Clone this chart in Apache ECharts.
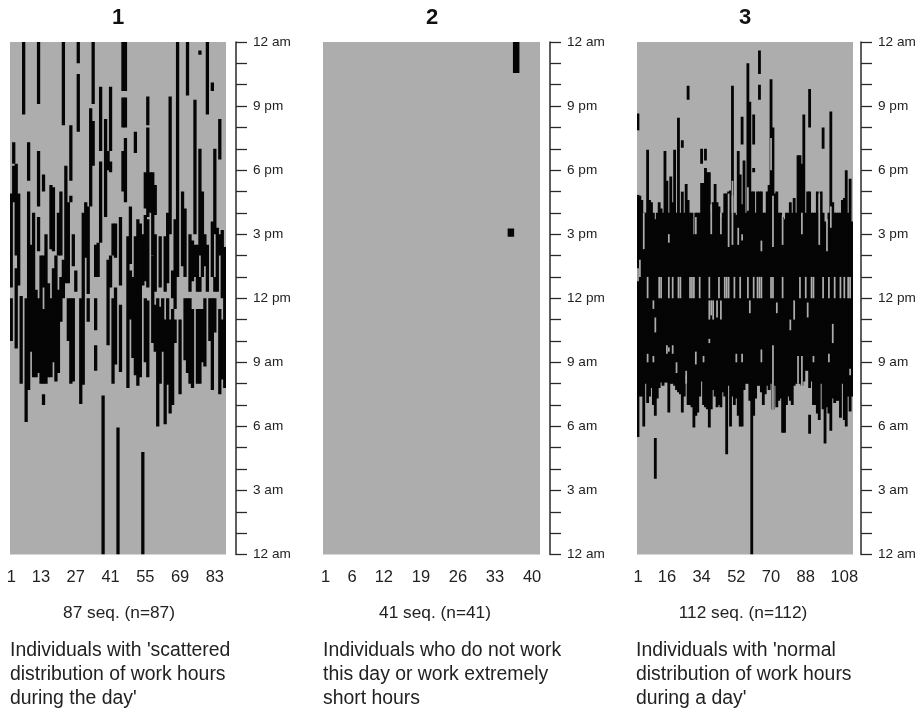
<!DOCTYPE html>
<html><head><meta charset="utf-8">
<style>html,body{margin:0;padding:0;background:#fff}#c{width:923px;height:710px;filter:blur(0.4px)}</style>
<script src="https://cdn.jsdelivr.net/npm/echarts@6/dist/echarts.min.js"></script>
</head><body><div id="c"></div>
<script>
// [sequence index, end hour, start hour]
const work1 = [
[0,16.9,12.5],[0,12,10],[1,19.3,18.3],[1,18.2,16.5],[2,18.3,14],[2,13.4,9.65],[3,16.9,12.6],[4,12.1,8],[5,24,20.6],[6,12,6.2],
[7,19.3,17.5],[7,17,7.7],[8,14.5,9.5],[9,16,8.3],[10,12.4,8.3],[11,24,21.1],[11,18.9,16.3],[11,15.8,14.2],[11,12,8.5],[12,14,8],
[13,17.8,17],[13,14,12.5],[13,11.5,8],[13,7.5,7],[14,15,8],[15,12.7,8.3],[16,17.3,14.3],[16,12,8.3],[17,17.2,14.2],[17,13.4,9],
[18,14,8.1],[19,16,14],[19,12.4,8.5],[20,17,14],[20,13,10.9],[21,24,20.1],[21,13.8,12],[22,18.2,12.7],[23,16.5,12.7],[23,12,10],
[24,20.1,17.5],[24,16.8,16.5],[24,12,8],[25,15,13.5],[25,12,8.1],[26,13.3,12.3],[27,24,23],[27,22.5,19.8],[28,12,7.05],[29,16,7.95],
[30,16.5,13.9],[31,16.3,12.2],[31,12,10.9],[32,20.9,16.3],[33,24,21.1],[33,20.3,18.2],[34,14.5,13],[34,12,10.5],[34,9.8,8.6],[35,14.6,13],
[36,21.9,18.9],[36,18.4,14.6],[37,7.45,0],[38,20.4,15.8],[39,18.9,18],[39,13.8,9.8],[40,21.9,18.9],[40,18.4,17.9],[40,14,12.5],[41,15.5,14],[41,12,8],
[42,15.5,13.9],[42,12.5,8.9],[43,5.95,0],[44,15.8,12.6],[44,11.7,8.55],[45,24,21.7],[45,21.4,20],[45,18.9,17],[46,24,21.7],[46,21.4,20],[46,19.5,16.5],
[47,14.9,7.8],[48,16.3,13.6],[48,13.3,11],[49,13,9.2],[50,19.8,18.8],[50,14.9,8.4],[51,15.7,7.9],[52,15.5,8.3],[53,4.8,0],[53,15,12.6],
[54,17.9,16.2],[54,15.9,12.8],[54,12,9],[55,21.45,20.1],[55,20,15.8],[55,15.7,12.5],[55,11.9,8.3],[56,17.9,16],[57,17.9,14],[57,14,9.9],
[58,17.3,15.9],[58,15,12.3],[58,11.7,9.5],[59,12,6],[60,14.9,12.5],[60,11.6,8],[61,12,9.5],[62,14.9,12.3],[62,11,6.1],[63,16,12.7],[63,12,7.95],
[64,21.45,15],[64,11,6.6],[65,13.3,12],[65,11.5,7],[66,15.7,11.5],[66,11,9.9],[67,24,13],[68,11,7.5],[69,17,13.5],[70,16.2,13],[70,12,9.1],
[71,24,21.5],[71,12,8.5],[72,15,12.3],[72,12,8],[73,14.7,12.8],[73,11.5,7.8],[74,21.3,15],[74,14.5,13],[75,14.5,12.3],[75,11.5,8],
[76,23.6,23.4],[76,19,14],[76,13,12.3],[76,11.5,8],[77,17,13],[77,11.5,9],[78,15,13.5],[78,12,8.8],[79,24,20.6],[79,14.5,12.3],[80,12,10],
[81,22.1,21.7],[81,15.6,13],[81,12,7.7],[82,19,15],[82,13,12.3],[82,12,10.4],[83,15.3,12.3],[84,20.4,18.5],[84,15,14],[84,11.5,7.5],
[85,15.2,14.4],[85,14.4,12],[85,11,8.2],[86,14.4,7.8]
];
const work2 = [[35,15.27,14.88],[36,24,22.55]];
const top3 = [16.85,16.8,16.6,16,16,18.95,16.6,16.5,16,15.7,16,16.5,16.2,16,18.9,17.5,16,17.7,16.5,18.95,16,20.45,16,17,16,17.35,16.6,16,16,15,16,16,16,17.4,17.4,18.1,17.9,17.9,16,16.5,17.35,16.5,16.3,15.8,16,16.9,16.9,17,17.05,21.95,16,15.9,18.9,17.8,16.4,18.45,16,23,21.2,17,17,16,17,17,17,16,16,17,17.3,22.25,20,16.9,17,16,16,15.8,15.7,16,16,16.5,16,16.7,16,18.7,18.7,18.3,20.6,16,17,17,16,16,16,17,16,17,16,15.6,15.5,16,20.75,16.5,16,16,16,16,16.6,16.7,18,16,17.6,15.6];
const bot3 = [5.5,7.4,7.4,6,8,7.1,7.4,7.8,7,6.5,7.3,7.8,8.05,7.9,8.05,8.05,6.65,8,8,7.9,7.7,7.6,7.5,6.65,7.4,8.4,7,7,6.9,5.95,6.5,6.65,7.4,8.1,7,6.9,6.8,5.95,6.8,7.7,7.4,6.9,7,6.9,7.6,7.4,4.7,7.9,6,7.4,7,7.3,6.5,6,6,7.7,8,8,7.2,0,6.5,7.3,7.9,7.9,7.6,7,7.5,7.9,7.7,8,6.8,7.9,6.9,7.2,7.3,5.7,5.7,7,7.4,7.2,7,7.9,8,8,8,7.9,8.1,8.6,8.6,7.8,8.1,7,7,6.6,6.3,8,6.8,5.2,6.9,6.6,5.8,7.3,7.1,7.2,7.2,6.4,8,6.3,6,7.4,6.7,7.4];
const extra3 = [[0,20.65,19.85],[9,5.45,3.55],[23,19.4,19.05],[26,21.95,21.3],[33,19,18.3],[35,19,18.45],[54,20.5,19.2],[60,20.6,19.2],[60,18.1,17.9],[63,23.6,22.5],[63,22,21.3],[89,21.8,20],[89,6.55,5.65],[96,20,19]];
const holes3 = [
[0,19.85,19.35],[0,17,16.85],[5,13,12],[11,13,12],[12,13,12],[16,13,12],[18,13,12],[21,13,12],[22,13,12],[23,18.9,17],[27,13,12],[28,13,12],[29,13,12],[32,13,12],[37,13,12],[42,13,12],[45,13,12],[46,13,12],[47,13,12],[50,13,12],[53,13,12],[57,13,12],[60,13,12],[62,13,12],[63,13,12],[64,13,12],[69,13,12],[70,13,12],[75,13,12],[84,13,12],[87,13,12],[90,13,12],[91,13,12],[96,13,12],[99,13,12],[102,13,12],[105,13,12],[107,13,12],[109,13,12],[110,13,12],
[0,13.4,12.8],[1,13.8,13],[3,16,14.3],[30,15.8,15],[38,16.4,15],[43,16,15],[47,16.9,14.4],[49,16.8,14.5],[52,15.3,14.5],[54,15,14.7],[64,14.7,14.2],[70,16.8,14.4],[75,15.9,14.5],[85,16,15],[94,16.9,14.5],[98,15.7,14.2],[100,16.3,15.3],[16,15,14.6],
[8,11.9,11.5],[9,11.1,10.4],[37,11.9,11],[38,11.9,11.2],[39,11.9,11],[41,11.9,11.1],[43,11.9,11],[37,10.1,9.9],[15,9.8,9.4],[16,9.7,9.5],[18,9.8,9.4],[5,9.4,9],[8,9.3,9],[30,9.5,8.9],[34,9.3,9],[51,9.4,9],[54,9.4,9],[64,9.6,9],[70,9.8,6.8],[83,9.3,8],[85,9.3,7.8],[91,9.3,9],[99,9.4,9],[101,10.8,9.9],[79,11,10.5],[72,11.8,11.3],[58,11.9,11.3],[81,11.9,11],[88,11.8,11.1],[25,8.6,8],[20,9,8.5],[110,8.7,8.4],[49,17.5,16],[57,17.2,16.1],[69,19.5,18]
];
const work3 = top3.map((t,i)=>[i,t,bot3[i]]).concat(extra3);
const labels1 = ['1','13','27','41','55','69','83'];
const labels2 = ['1','6','12','19','26','33','40'];
const labels3 = ['1','16','34','52','70','88','108'];
const counts = [87,41,112];
const panelTitles = ['1','2','3'];
const seqNotes = ['87 seq. (n=87)','41 seq. (n=41)','112 seq. (n=112)'];
const captions = ["Individuals with 'scattered\ndistribution of work hours\nduring the day'","Individuals who do not work\nthis day or work extremely\nshort hours","Individuals with 'normal\ndistribution of work hours\nduring a day'"];
const hourLabels = {0:'12 am',3:'3 am',6:'6 am',9:'9 am',12:'12 pm',15:'3 pm',18:'6 pm',21:'9 pm',24:'12 am'};

const FONT='"Liberation Sans",Arial,sans-serif';
const geo=[{l:10,w:216,off:10,tx:118,nx:119,cap:10},{l:323,w:217,off:10,tx:432,nx:435,cap:323},{l:637,w:216,off:8,tx:745,nx:743,cap:636}];
const tick=[labels1,labels2,labels3];
const renderSeg=(color,extra)=>function(p,api){
  const a=api.coord([api.value(0),api.value(1)]);
  const b=api.coord([api.value(0),api.value(2)]);
  const w=api.size([1,0])[0]+extra;
  return {type:'rect',shape:{x:a[0]-w/2,y:a[1],width:w,height:b[1]-a[1]},style:{fill:color}};
};
const grids=[],xs=[],ys=[],series=[],gfx=[];
geo.forEach((g,i)=>{
  grids.push({left:g.l,width:g.w,top:42,height:512.5,show:true,backgroundColor:'#adadad',borderWidth:0});
  const cats=Array.from({length:counts[i]},(_,k)=>String(k+1));
  xs.push({type:'category',gridIndex:i,data:cats,axisLine:{show:false},axisTick:{show:false},splitLine:{show:false},
    axisLabel:{interval:(k,v)=>tick[i].includes(v),hideOverlap:false,margin:14,fontFamily:FONT,fontSize:16.5,color:'#222'}});
  ys.push({type:'value',gridIndex:i,position:'right',offset:g.off,min:0,max:24,interval:1,splitLine:{show:false},
    axisLine:{show:true,lineStyle:{color:'#2a2a2a',width:1.5}},axisTick:{show:true,inside:false,length:11,lineStyle:{color:'#2a2a2a',width:1.3}},
    axisLabel:{margin:17,fontFamily:FONT,fontSize:13.6,color:'#222',showMinLabel:true,showMaxLabel:true,hideOverlap:false,formatter:v=>hourLabels[v]||''}});
  gfx.push({type:'text',x:g.tx,y:7,style:{text:panelTitles[i],textAlign:'center',font:'bold 22px '+FONT,fill:'#111'}});
  gfx.push({type:'text',x:g.nx,y:604.5,style:{text:seqNotes[i],textAlign:'center',font:'17.3px '+FONT,fill:'#222'}});
  gfx.push({type:'text',x:g.cap,y:639,style:{text:captions[i],font:'19.4px '+FONT,fill:'#222',lineHeight:23.7}});
});
const works=[work1,work2,work3];
const pad=[0.8,1.2,0.9];
works.forEach((d,i)=>series.push({type:'custom',name:'Working',xAxisIndex:i,yAxisIndex:i,data:d,silent:true,animation:false,clip:true,encode:{x:0,y:[1,2]},renderItem:renderSeg('#050505',pad[i]),z:2}));
series.push({type:'custom',name:'Not working',xAxisIndex:2,yAxisIndex:2,data:holes3,silent:true,animation:false,encode:{x:0,y:[1,2]},renderItem:renderSeg('#adadad',-0.2),z:3});
echarts.init(document.getElementById('c'),null,{renderer:'canvas'}).setOption({animation:false,backgroundColor:'#fff',grid:grids,xAxis:xs,yAxis:ys,series,graphic:gfx});
</script></body></html>
